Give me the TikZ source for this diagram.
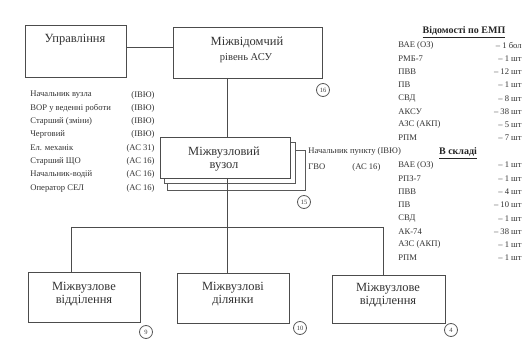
\documentclass[tikz,border=0pt]{standalone}
\usepackage{fontspec}
\setmainfont{Liberation Serif}
\begin{document}
\begin{tikzpicture}[x=1pt,y=-1pt,
  line width=0.8pt,
  box/.style={draw=black!70, rectangle, inner sep=0pt},
  boxtext/.style={font=\fontsize{12.5}{13.5}\selectfont, text=black!80, align=center, inner sep=0pt},
  small/.style={font=\fontsize{8.6}{9}\selectfont, text=black!80, inner sep=0pt},
  head/.style={font=\fontsize{10}{11}\selectfont\bfseries, text=black!85, inner sep=0pt},
  tag/.style={draw=black!65, circle, minimum size=13pt, inner sep=0pt, font=\fontsize{6.5}{7}\selectfont, text=black!75, fill=white},
  conn/.style={draw=black!70}]
\useasboundingbox (0,0) rectangle (528,347);
\fill[white] (0,0) rectangle (528,347);

% top boxes
\node[box, minimum width=101pt, minimum height=52pt] (upr) at (75.5,51) {};
\node[boxtext] (uprT) at (75,40) {Управління};
\node[box, minimum width=149pt, minimum height=51pt] (top) at (247.5,52.5) {};
\node[boxtext] (topT) at (247,42) {Міжвідомчий};
\node[small, font=\fontsize{10.5}{11}\selectfont] (topT2) at (246,58) {рівень АСУ};
\node[tag] (t16) at (323,90) {16};

\draw[conn] (upr.east |- 0,47) -- (top.west |- 0,47);

% central box with shadows
\draw[black!65] (167,150) rectangle (305,190);
\draw[black!65, fill=white] (164,142) rectangle (295,183);
\node[box, fill=white, minimum width=130pt, minimum height=41pt] (cen) at (225,157.5) {};
\node[boxtext, align=center] (cenT) at (224,159) {Міжвузловий\\вузол};
\node[tag] (t15) at (304,202) {15};

\coordinate (topj) at (227,78);
\draw[conn] (topj) -- (topj |- cen.north);

% left list
\foreach \n/\c [count=\i from 0] in {Начальник вузла/(ІВЮ), ВОР у веденні роботи/(ІВЮ), Старший (зміни)/(ІВЮ), Черговий/(ІВЮ), Ел. механік/(АС 31), Старший ЩО/(АС 16), Начальник-водій/(АС 16), Оператор СЕЛ/(АС 16)}{
  \node[small, anchor=west] (ln\i) at (30,95+13.3*\i) {\n};
  \node[small, anchor=east] (lc\i) at (155,95+13.3*\i) {\c};
}

% text right of central box
\node[small, anchor=west] (cr1) at (308,151) {Начальник пункту (ІВЮ)};
\node[small, anchor=west] (cr2) at (308,167) {ГВО};
\node[small, anchor=west] (cr3) at (352,167) {(АС 16)};

% right list block 1
\node[head] (h1) at (464,32) {\underline{Відомості по ЕМП}};
\foreach \n/\v [count=\i from 0] in {ВАЕ (ОЗ)/1 бол, РМБ-7/1 шт, ПВВ/12 шт, ПВ/1 шт, СВД/8 шт, АКСУ/38 шт, АЗС (АКП)/5 шт, РПМ/7 шт}{
  \node[small, anchor=west] (an\i) at (398,45+13.3*\i) {\n};
  \node[small, anchor=east] (av\i) at (522,45+13.3*\i) {– \v};
}
% right list block 2
\node[head] (h2) at (458,153) {\underline{В складі}};
\foreach \n/\v [count=\i from 0] in {ВАЕ (ОЗ)/1 шт, РПЗ-7/1 шт, ПВВ/4 шт, ПВ/10 шт, СВД/1 шт, АК-74/38 шт, АЗС (АКП)/1 шт, РПМ/1 шт}{
  \node[small, anchor=west] (bn\i) at (398,165+13.3*\i) {\n};
  \node[small, anchor=east] (bv\i) at (522,165+13.3*\i) {– \v};
}

% bottom boxes
\node[box, minimum width=112pt, minimum height=50pt] (b1) at (84,297) {};
\node[boxtext, align=center] (b1T) at (84,294) {Міжвузлове\\відділення};
\node[box, minimum width=112pt, minimum height=50pt] (b2) at (233.5,298) {};
\node[boxtext, align=center] (b2T) at (233,294) {Міжвузлові\\ділянки};
\node[box, minimum width=113pt, minimum height=48pt] (b3) at (388.5,299) {};
\node[boxtext, align=center] (b3T) at (388,295) {Міжвузлове\\відділення};
\node[tag] (t9) at (146,332) {9};
\node[tag] (t10) at (300,328) {10};
\node[tag] (t4) at (451,330) {4};

% bus
\coordinate (cj) at (227,178);
\coordinate (j1) at (71,227);
\coordinate (j2) at (227,227);
\coordinate (j3) at (383,227);
\draw[conn] (cj) -- (j2);
\draw[conn] (j1) -- (j3);
\draw[conn] (j1) -- (j1 |- b1.north);
\draw[conn] (j2) -- (j2 |- b2.north);
\draw[conn] (j3) -- (j3 |- b3.north);
\end{tikzpicture}
\end{document}
